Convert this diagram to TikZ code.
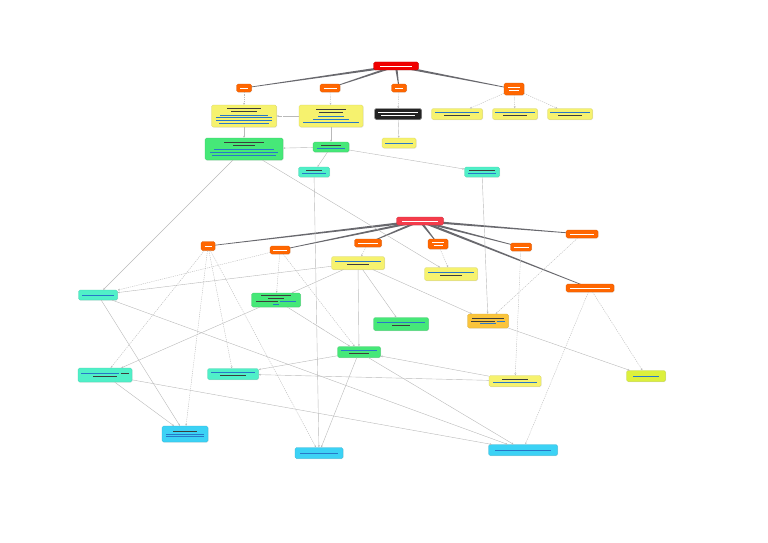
\documentclass[tikz,border=0pt]{standalone}
\usetikzlibrary{arrows.meta,shadows,calc,backgrounds}

% Farben
\definecolor{wurzel}{RGB}{240,0,0}
\definecolor{wurzelzwei}{RGB}{245,60,75}
\definecolor{kat}{RGB}{255,102,0}
\definecolor{gelb}{RGB}{246,242,110}
\definecolor{gruen}{RGB}{70,232,120}
\definecolor{tuerkis}{RGB}{80,240,200}
\definecolor{blau}{RGB}{60,210,245}
\definecolor{gold}{RGB}{250,196,60}
\definecolor{limette}{RGB}{220,240,60}
\definecolor{dunkel}{RGB}{35,35,35}
\definecolor{textgrau}{RGB}{60,60,60}
\definecolor{linkblau}{RGB}{40,120,200}
\definecolor{astgrau}{RGB}{105,105,110}

% Textzeilen (Platzhalter fuer die kleine Schrift)
\newcommand{\tz}[1]{{\color{textgrau}\rule{#1pt}{0.6pt}}}
\newcommand{\lz}[1]{{\color{linkblau}\rule{#1pt}{0.8pt}}}
\newcommand{\wz}[1]{{\color{white}\rule{#1pt}{0.6pt}}}
\newcommand{\gz}[1]{{\color{gray!55}\rule{#1pt}{0.5pt}}}

% Keilfoermiger Ast von der Wurzel zur Kategorie
\newcommand{\keil}[2]{\fill[astgrau]
	($(#1)!1.2pt!90:(#2)$) -- ($(#1)!1.2pt!-90:(#2)$) --
	($(#2)!0.3pt!90:(#1)$) -- ($(#2)!0.3pt!-90:(#1)$) -- cycle;}

\tikzset{
  box/.style={rounded corners=1.5pt, inner sep=0pt, align=center,
    font=\fontsize{2.5}{2.9}\selectfont,
    drop shadow={opacity=0.2, shadow xshift=0.6pt, shadow yshift=-0.6pt}},
  wurzelbox/.style={box, fill=wurzel, draw=wurzel!80!black, line width=0.2pt},
  wurzelbox2/.style={box, fill=wurzelzwei, draw=wurzelzwei!80!black, line width=0.2pt},
  katbox/.style={box, fill=kat, draw=kat!85!black, line width=0.2pt},
  gelbbox/.style={box, fill=gelb, draw=gelb!85!black, line width=0.2pt},
  gruenbox/.style={box, fill=gruen, draw=gruen!85!black, line width=0.2pt},
  tuerkisbox/.style={box, fill=tuerkis, draw=tuerkis!85!black, line width=0.2pt},
  blaubox/.style={box, fill=blau, draw=blau!85!black, line width=0.2pt},
  goldbox/.style={box, fill=gold, draw=gold!85!black, line width=0.2pt},
  limettebox/.style={box, fill=limette, draw=limette!85!black, line width=0.2pt},
  dunkelbox/.style={box, fill=dunkel, draw=gray, line width=0.4pt},
  kante/.style={draw=gray!55, line width=0.4pt, -{Stealth[length=2.2pt,width=1.8pt]}},
  kanteg/.style={kante, dash pattern=on 1.2pt off 1pt},
  kantentext/.style={fill=white, inner sep=0.6pt, font=\fontsize{2.5}{2.9}\selectfont}
}

\begin{document}
\begin{tikzpicture}[x=1pt,y=-1pt]

	% Rahmen
	\useasboundingbox (0,0) rectangle (768,543);

	% Obere Karte: Wurzel und Kategorien
	\node[wurzelbox, minimum width=45pt, minimum height=8pt] (R1) at (396,66) {\wz{32}};
	\node[katbox, minimum width=15pt, minimum height=8pt] (A1) at (244,88) {\wz{8}};
	\node[katbox, minimum width=20pt, minimum height=8pt] (A2) at (330,88) {\wz{13}};
	\node[katbox, minimum width=15pt, minimum height=8pt] (A3) at (399,88) {\wz{8}};
	\node[katbox, minimum width=20pt, minimum height=12pt] (A4) at (514,89) {\wz{12}\\\wz{10}};

	% Obere Karte: Eintraege
	\node[gelbbox, minimum width=65pt, minimum height=22pt] (Y1) at (244,116)
		{\tz{34}\\\tz{26}\\[1pt]\lz{48}\\\lz{56}\\\lz{56}\\\lz{50}};
	\node[gelbbox, minimum width=64pt, minimum height=22pt] (Y2) at (331,116)
		{\tz{30}\\\tz{24}\\[1pt]\lz{26}\\\lz{36}\\\lz{56}};
	\node[dunkelbox, minimum width=47pt, minimum height=11pt] (K1) at (398,114) {\wz{40}\\\wz{34}};
	\node[gelbbox, minimum width=51pt, minimum height=11pt] (Y3) at (457,114) {\lz{44}\\\tz{26}};
	\node[gelbbox, minimum width=45pt, minimum height=11pt] (Y4) at (515,114) {\lz{40}\\\tz{24}};
	\node[gelbbox, minimum width=45pt, minimum height=11pt] (Y5) at (570,114) {\lz{40}\\\tz{24}};
	\node[gelbbox, minimum width=34pt, minimum height=10pt] (Y6) at (399,143) {\lz{28}};
	\node[gruenbox, minimum width=78pt, minimum height=22pt] (G1) at (244,149)
		{\tz{40}\\\tz{22}\\[1pt]\lz{60}\\\lz{68}\\\lz{64}};
	\node[gruenbox, minimum width=36pt, minimum height=10pt] (G2) at (331,147) {\tz{20}\\\lz{28}};
	\node[tuerkisbox, minimum width=31pt, minimum height=10pt] (T1) at (314,172) {\tz{16}\\\lz{24}};
	\node[tuerkisbox, minimum width=35pt, minimum height=10pt] (T2) at (482,172) {\tz{26}\\\lz{28}};

	% Untere Karte: Wurzel und Kategorien
	\node[wurzelbox2, minimum width=47pt, minimum height=8pt] (R2) at (420,221) {\wz{36}};
	\node[katbox, minimum width=14pt, minimum height=9pt] (B1) at (208,246) {\wz{7}};
	\node[katbox, minimum width=20pt, minimum height=8pt] (B2) at (280,250) {\wz{14}};
	\node[katbox, minimum width=27pt, minimum height=8pt] (B3) at (368,243) {\wz{20}};
	\node[katbox, minimum width=20pt, minimum height=10pt] (B4) at (438,244) {\wz{12}\\\wz{9}};
	\node[katbox, minimum width=21pt, minimum height=8pt] (B5) at (521,247) {\wz{15}};
	\node[katbox, minimum width=32pt, minimum height=8pt] (B6) at (582,234) {\wz{24}};
	\node[katbox, minimum width=48pt, minimum height=8pt] (B7) at (590,288) {\wz{40}};

	% Untere Karte: Eintraege
	\node[gelbbox, minimum width=53pt, minimum height=13pt] (Y7) at (358,263) {\lz{46}\\\tz{22}};
	\node[gelbbox, minimum width=53pt, minimum height=13pt] (Y8) at (451,274) {\lz{46}\\\tz{22}};
	\node[tuerkisbox, minimum width=39pt, minimum height=10pt] (T3) at (98,295) {\lz{32}};
	\node[gruenbox, minimum width=49pt, minimum height=14pt] (G3) at (276,300)
		{\tz{30}\\\tz{16}\\\tz{22}~\lz{16}\\\lz{6}};
	\node[gruenbox, minimum width=55pt, minimum height=13pt] (G4) at (401,324) {\lz{48}\\\tz{18}};
	\node[goldbox, minimum width=41pt, minimum height=14pt] (Y9) at (488,321)
		{\tz{32}\\\tz{24}~\lz{8}\\\lz{16}};
	\node[gruenbox, minimum width=43pt, minimum height=11pt] (G5) at (359,352) {\lz{36}\\\tz{20}};
	\node[tuerkisbox, minimum width=54pt, minimum height=14pt] (T4) at (105,375) {\lz{38}~\tz{8}\\\tz{24}};
	\node[tuerkisbox, minimum width=51pt, minimum height=11pt] (T5) at (233,374) {\lz{44}\\\tz{26}};
	\node[gelbbox, minimum width=52pt, minimum height=11pt] (Y10) at (515,381) {\tz{26}\\\lz{44}};
	\node[limettebox, minimum width=39pt, minimum height=11pt] (Y11) at (646,376) {\lz{26}};
	\node[blaubox, minimum width=46pt, minimum height=16pt] (U1) at (185,434) {\tz{24}\\\lz{38}\\\lz{38}};
	\node[blaubox, minimum width=48pt, minimum height=11pt] (U2) at (319,453) {\lz{38}};
	\node[blaubox, minimum width=69pt, minimum height=11pt] (U3) at (523,450) {\lz{56}};

	% Aeste der Wurzeln
	\begin{scope}[on background layer]
		\foreach \k in {A1,A2,A3,A4}
			{\keil{R1}{\k}}
		\foreach \k in {B1,B2,B3,B4,B5,B6,B7}
			{\keil{R2}{\k}}
	\end{scope}

	% Obere Karte: Verbindungen
	\draw[kanteg] (A1) -- (Y1);
	\draw[kanteg] (A2) -- (Y2);
	\draw[kanteg] (A3) -- (K1);
	\draw[kanteg] (A4) -- (Y3);
	\draw[kanteg] (A4) -- (Y4);
	\draw[kanteg] (A4) -- (Y5);
	\draw[kante] (Y2) -- node[kantentext] {\gz{10}} (Y1);
	\draw[kante] (Y1) -- (G1);
	\draw[kante] (Y2) -- (G2);
	\draw[kante] (K1) -- (Y6);
	\draw[kante] (G2) -- (G1);
	\draw[kante] (G2) -- (T1);
	\draw[kante] (G2) -- (T2);
	\draw[kante] (G1) -- (T3);
	\draw[kante] (G1) -- (Y8);
	\draw[kante] (T1) -- (U2);
	\draw[kante] (T2) -- (Y9);

	% Untere Karte: Verbindungen (gestrichelt)
	\draw[kanteg] (B3) -- (Y7);
	\draw[kanteg] (B4) -- (Y8);
	\draw[kanteg] (B5) -- (Y10);
	\draw[kanteg] (B6) -- (Y9);
	\draw[kanteg] (B7) -- (Y11);
	\draw[kanteg] (B7) -- (U3);
	\foreach \z in {T4,U1,T5,U2}
		\draw[kanteg] (B1) -- (\z);
	\foreach \z in {T3,G3,G5}
		\draw[kanteg] (B2) -- (\z);

	% Untere Karte: Verbindungen (durchgezogen)
	\foreach \z in {T3,G3,G5,G4,Y9}
		\draw[kante] (Y7) -- (\z);
	\draw[kante] (G3) -- (T4);
	\draw[kante] (G3) -- node[kantentext, sloped] {\gz{14}} (G5);
	\draw[kante] (T3) -- (U1);
	\draw[kante] (T3) -- (U3);
	\draw[kante] (T4) -- (U1);
	\draw[kante] (T4) -- (U3);
	\draw[kante] (G5) -- (T5);
	\draw[kante] (G5) -- (U2);
	\draw[kante] (G5) -- (U3);
	\draw[kante] (Y10) -- (T5);
	\draw[kante] (Y10) -- (G5);
	\draw[kante] (Y9) -- (Y11);

\end{tikzpicture}
\end{document}
